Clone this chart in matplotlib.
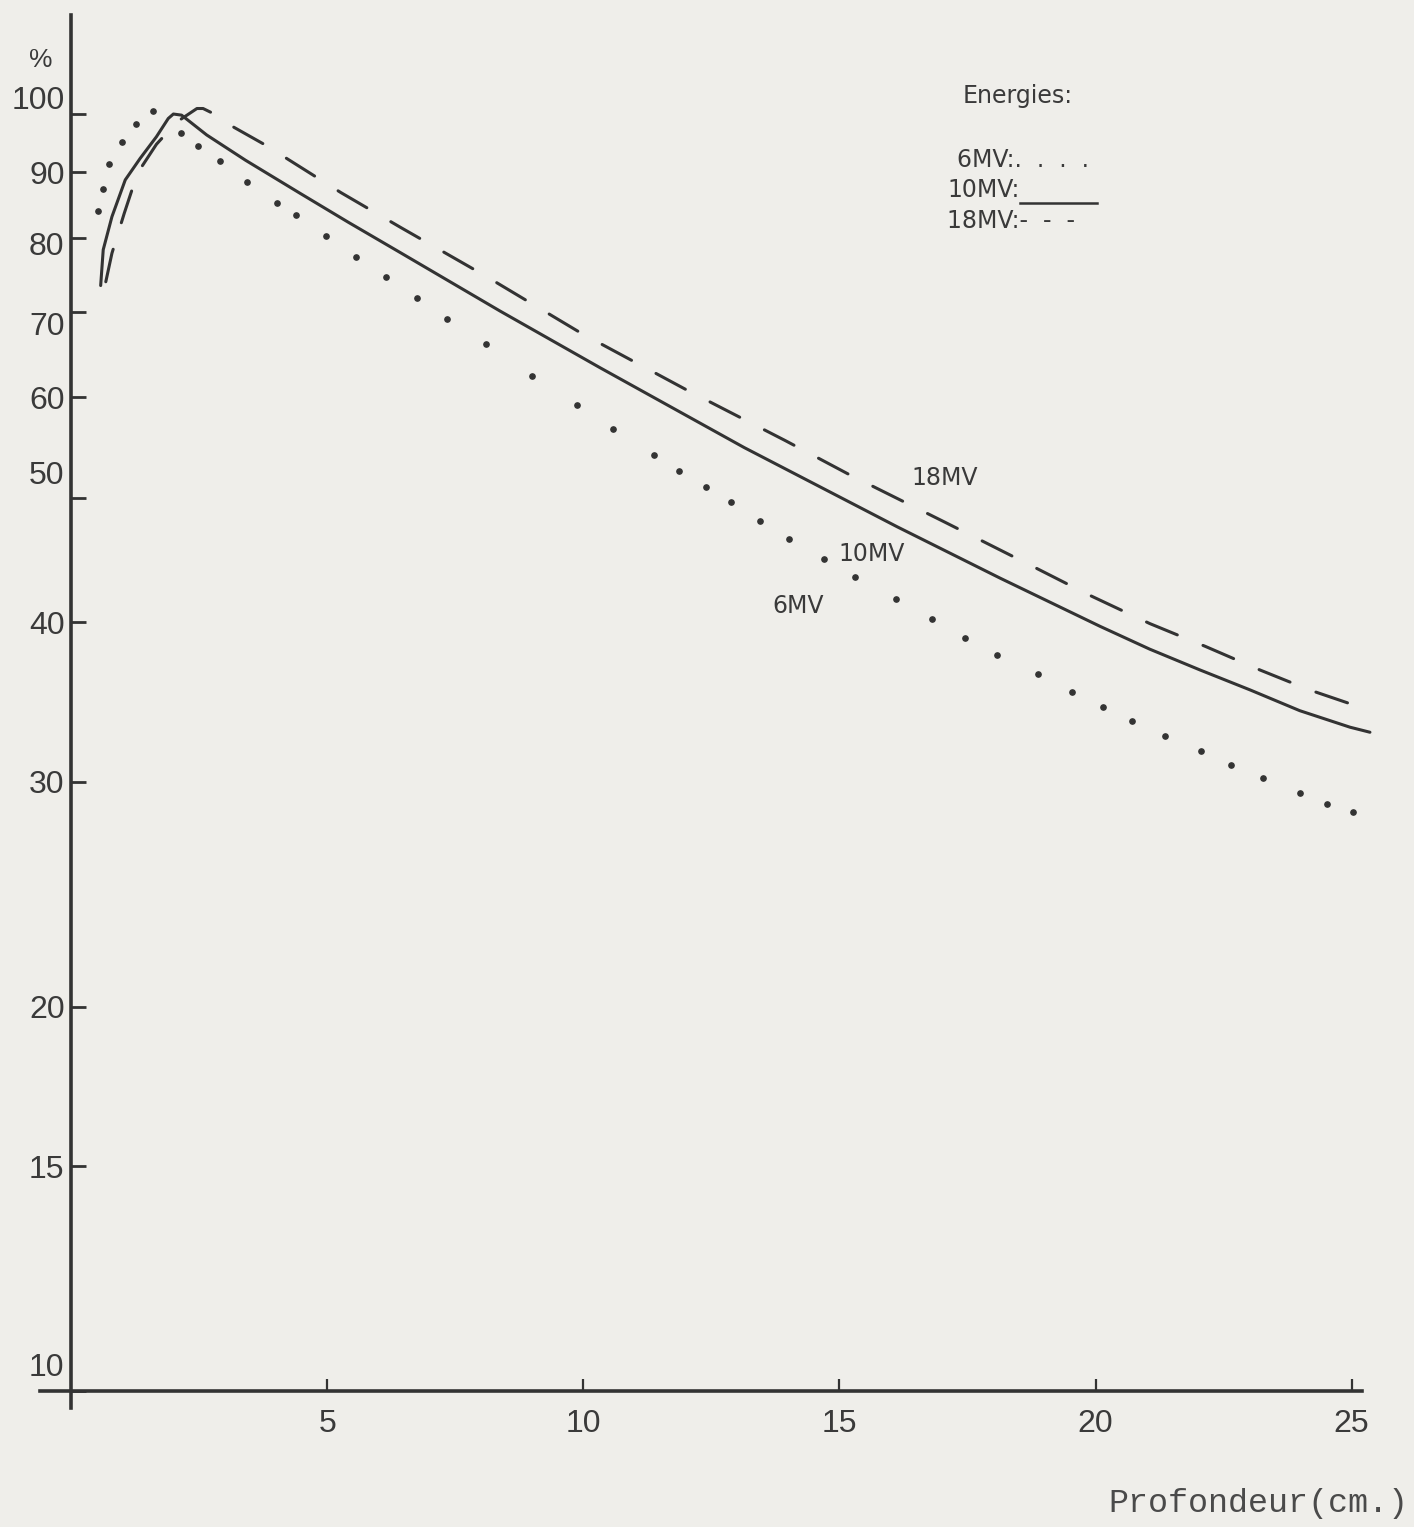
import matplotlib
matplotlib.use("Agg")
import matplotlib.pyplot as plt
import matplotlib.transforms as mtransforms
from matplotlib.lines import Line2D
from matplotlib.ticker import NullLocator

# Depth dose curves (depth in cm, dose in %)
depth_6mv = [0.52, 0.61, 0.74, 0.98, 1.26, 1.60, 2.14, 2.48, 2.90, 3.42, 4.01, 4.38,
             4.98, 5.55, 6.14, 6.74, 7.34, 8.09, 8.99, 9.87, 10.58, 11.38, 11.87, 12.39,
             12.88, 13.45, 14.01, 14.70, 15.30, 16.10, 16.80, 17.45, 18.08, 18.87, 19.54,
             20.15, 20.72, 21.36, 22.06, 22.65, 23.27, 23.99, 24.53, 25.02]
dose_6mv = [84.0, 87.4, 91.4, 95.0, 98.2, 100.6, 96.7, 94.4, 91.8, 88.5, 85.2, 83.3,
            80.3, 77.3, 74.6, 71.8, 69.1, 66.0, 62.4, 59.2, 56.7, 54.1, 52.5, 51.0,
            49.7, 48.0, 46.5, 44.8, 43.4, 41.7, 40.2, 38.9, 37.7, 36.4, 35.3,
            34.3, 33.5, 32.6, 31.7, 30.9, 30.2, 29.4, 28.8, 28.4]

depth_10mv = [0.57, 0.62, 0.79, 1.05, 1.34, 1.66, 1.89, 1.99, 2.15, 2.64, 3.40, 4.46,
              5.40, 6.42, 8.37, 10.32, 13.14, 16.13, 18.14, 20.09, 21.06,
              22.04, 23.02, 23.99, 24.97, 25.36]
dose_10mv = [73.4, 78.3, 83.1, 88.8, 92.3, 96.0, 99.2, 100.0, 99.8, 96.3, 92.0, 86.7,
             82.3, 77.9, 70.1, 63.3, 54.8, 47.5, 43.3, 39.7, 38.1,
             36.7, 35.4, 34.1, 33.1, 32.8]

depth_18mv = [0.67, 0.79, 1.03, 1.29, 1.66, 2.06, 2.45, 2.57, 2.90, 3.16, 3.78, 5.26,
              6.43, 8.08, 9.97, 12.05, 13.94, 15.19, 17.06, 18.79, 19.88, 21.06, 22.14,
              23.21, 24.18, 25.28]
dose_18mv = [73.9, 77.8, 83.6, 89.9, 94.7, 98.6, 101.0, 101.0, 99.5, 97.7, 94.6, 86.8,
             81.5, 74.7, 67.3, 60.7, 55.5, 52.2, 47.9, 44.2, 42.0, 39.9, 38.3,
             36.7, 35.4, 34.2]

yticks = [10, 15, 20, 30, 40, 50, 60, 70, 80, 90, 100]
ytick_labels = ["10", "15", "20", "30", "40", "50", "60", "70", "80", "90", "100"]
xticks = [5, 10, 15, 20, 25]
xtick_labels = ["5", "10", "15", "20", "25"]

W, H = 1414, 1527
ink = "#333333"
paper = "#efeeea"
plt.rcParams["lines.scale_dashes"] = False

fig = plt.figure(figsize=(W / 100, H / 100), dpi=100, facecolor=paper)
ax = fig.add_axes([40 / W, 1 - 1408 / H, 1322 / W, 1393 / H])
ax.set_facecolor(paper)


def fpos(x, y):
    # pixel position on the page -> figure fraction
    return x / W, 1 - y / H


ax.set_yscale("log")
ax.set_xlim(-0.615, 25.205)
ax.set_ylim(9.698, 119.55)

ax.plot(depth_6mv, dose_6mv, linestyle="none", marker="o", ms=3.8, color=ink, clip_on=False)
ax.plot(depth_10mv, dose_10mv, "-", lw=2.2, color=ink, clip_on=False,
        solid_joinstyle="round", solid_capstyle="round")
ax.plot(depth_18mv, dose_18mv, lw=2.2, color=ink, clip_on=False,
        linestyle=(0, (24, 20)), dash_capstyle="round")

for s in ["top", "right"]:
    ax.spines[s].set_visible(False)
ax.spines["left"].set_position(("data", 0))
ax.spines["bottom"].set_position(("data", 10))
for s in ["left", "bottom"]:
    ax.spines[s].set_linewidth(2.6)
    ax.spines[s].set_color(ink)

ax.yaxis.set_minor_locator(NullLocator())
ax.xaxis.set_minor_locator(NullLocator())
ax.set_yticks(yticks)
ax.set_yticklabels(ytick_labels, fontfamily="Liberation Sans", fontsize=23)
ax.set_xticks(xticks)
ax.set_xticklabels(xtick_labels, fontfamily="Liberation Sans", fontsize=23)
ax.tick_params(axis="y", direction="in", length=11, width=2, pad=5,
               color=ink, labelcolor="#3a3a3a")
ax.tick_params(axis="x", direction="in", length=9, width=1.6, pad=13,
               color=ink, labelcolor="#3a3a3a")

# hand-lettered labels sit a little off their ticks
nudge = {100: 17, 80: -6, 70: -12, 50: 26, 10: 26}
for val, lbl in zip(yticks, ax.get_yticklabels()):
    dy = nudge.get(val, 0)
    if dy:
        off = mtransforms.ScaledTranslation(0, dy / 100, fig.dpi_scale_trans)
        lbl.set_transform(lbl.get_transform() + off)

fig.text(*fpos(29, 67), "%", fontsize=19, color="#3a3a3a", va="baseline",
         fontfamily="Liberation Sans")
fig.text(*fpos(1108, 1512), "Profondeur(cm.)", fontsize=24, color="#4a4a4a",
         va="baseline", fontfamily="Liberation Mono")

# key
txt = dict(fontsize=17, color="#3a3a3a", va="baseline", fontfamily="DejaVu Sans")
fig.text(*fpos(963, 103), "Energies:", **txt)
fig.text(*fpos(957, 167), "6MV:.  .  .  .", **txt)
fig.text(*fpos(947, 197), "10MV:", **txt)
fig.text(*fpos(947, 228), "18MV:-  -  -", **txt)
x0, y0 = fpos(1020, 203)
x1, _ = fpos(1097, 203)
fig.add_artist(Line2D([x0, x1], [y0, y0], transform=fig.transFigure, color=ink, lw=1.8))

# curve labels
fig.text(*fpos(911, 485), "18MV", **txt)
fig.text(*fpos(838, 561), "10MV", **txt)
fig.text(*fpos(772, 613), "6MV", **txt)

fig.savefig("out.png", dpi=100, facecolor=paper)
